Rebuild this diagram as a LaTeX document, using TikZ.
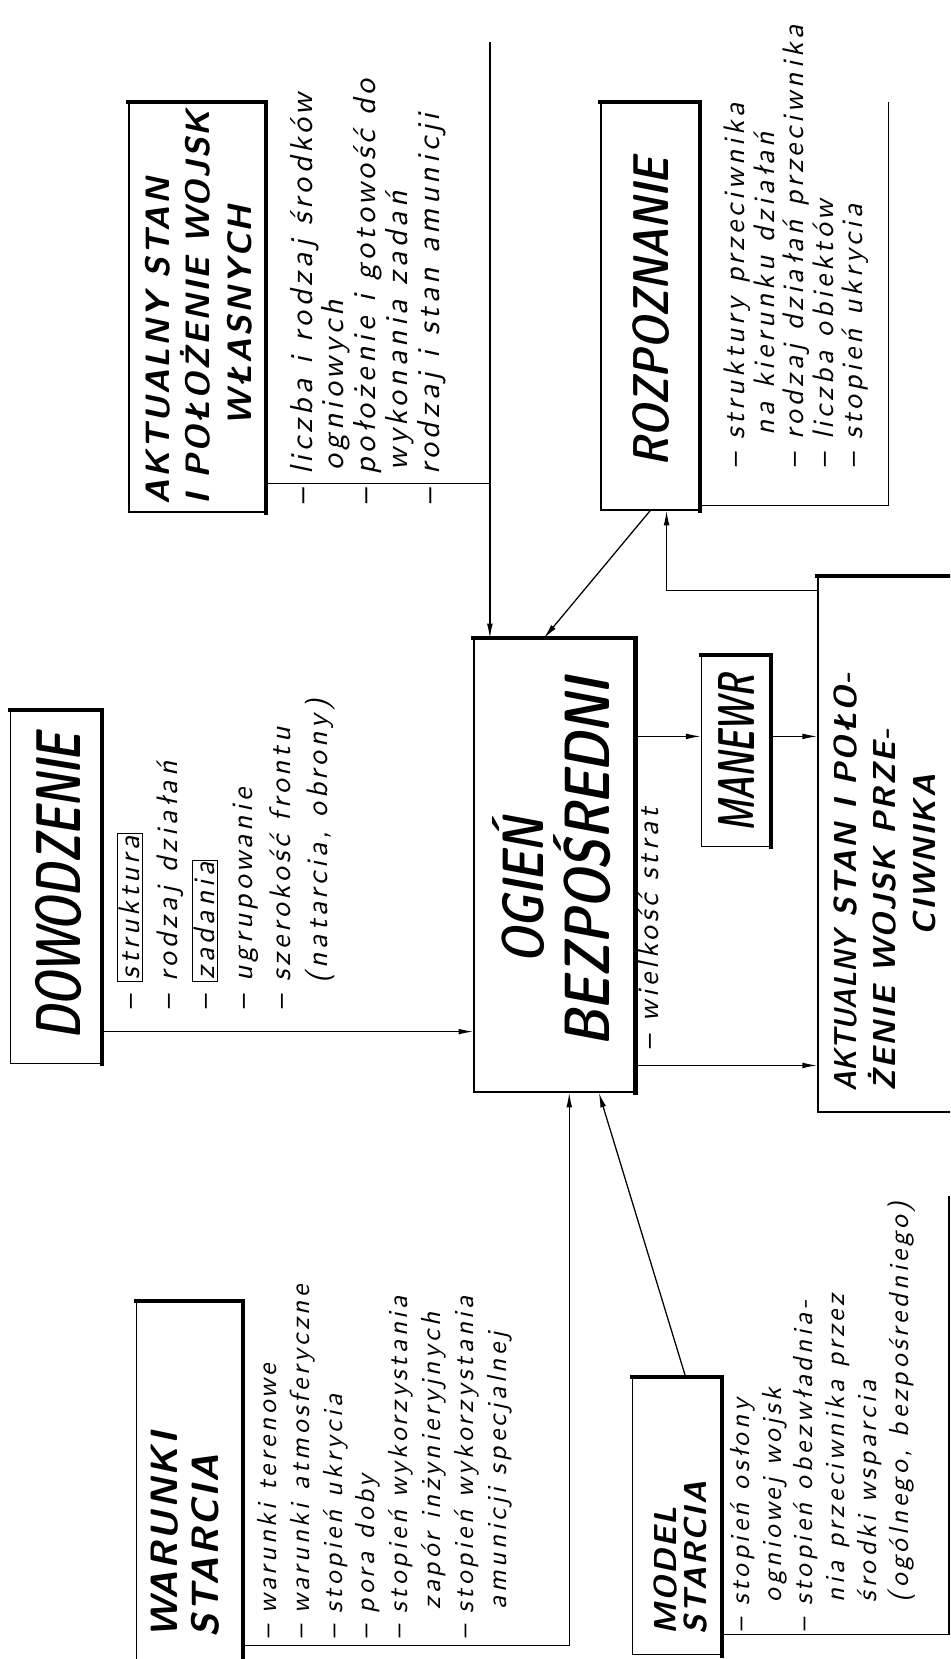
\documentclass[tikz,border=0pt]{standalone}
\usepackage{fontspec}
\usetikzlibrary{arrows.meta}
\newfontfamily\handfont{lmsans10-oblique.otf}[LetterSpace=13]
\newfontfamily\boldhand{lmsans10-boldoblique.otf}[LetterSpace=6]
\newfontfamily\caphand{lmsansdemicond10-oblique.otf}
\setlength{\fboxsep}{1.5pt}
\setlength{\fboxrule}{1pt}
\tikzset{
  block/.style={draw, line width=1.3pt, inner sep=0pt},
  shade edge/.style={line width=4pt, line cap=rect},
  conn/.style={line width=1.2pt},
  arr/.style={line width=1.2pt, -{Latex[length=14pt,width=5.5pt]}},
  listtext/.style={rotate=90, anchor=north west, align=left, inner sep=0pt,
    font=\handfont\fontsize{30}{30}\selectfont},
  title/.style={rotate=90, inner sep=0pt}
}
\begin{document}
\begin{tikzpicture}[x=1pt, y=-1pt]
\useasboundingbox (0,0) rectangle (898,1568);
\fill[white] (0,0) rectangle (898,1568);
\clip (0,0) rectangle (898,1568);

% ---- boxes (centre, size) ----
\node[block, minimum width=129pt, minimum height=387pt] (own)   at (186.5,290.5) {};
\node[block, minimum width=93pt,  minimum height=385pt] (roz)   at (614.5,289.5) {};
\node[block, minimum width=86pt,  minimum height=333pt] (dow)   at (53,838.5) {};
\node[block, minimum width=152pt, minimum height=428pt] (ogien) at (524,818) {};
\node[block, minimum width=65pt,  minimum height=180pt] (man)   at (695.5,710) {};
\node[block, minimum width=132pt, minimum height=506pt] (enemy) at (839,798) {};
\node[block, minimum width=100pt, minimum height=345pt] (war)   at (179,1402.5) {};
\node[block, minimum width=84pt,  minimum height=262pt] (model) at (640,1433) {};

% heavy top and right edges
\foreach \b in {own,roz,dow,ogien,man,enemy,war,model}
  \draw[shade edge] (\b.north west) -- (\b.north east) -- (\b.south east);

% ---- titles ----
\node[title, anchor=north west, align=left, font=\boldhand\fontsize{32}{38}\selectfont]
  (ownT) at (137,477) {AKTUALNY STAN\\I POŁOŻENIE WOJSK};
\node[title, font=\boldhand\fontsize{32}{38}\selectfont] (ownT3) at (227,298) {WŁASNYCH};
\node[title, font=\caphand\fontsize{44}{44}\selectfont] (rozT) at (615,295) {\scalebox{1}[1.08]{ROZPOZNANIE}};
\node[title, font=\caphand\fontsize{46}{50}\selectfont] (dowT) at (55,838) {\scalebox{1}[1.3]{DOWODZENIE}};
\node[title, font=\caphand\fontsize{48}{50}\selectfont] (ogT1) at (490,842) {\scalebox{1}[1.15]{OGIEŃ}};
\node[title, font=\caphand\fontsize{54}{56}\selectfont] (ogT2) at (550,815) {\scalebox{1}[1.12]{BEZPOŚREDNI}};
\node[title, font=\caphand\fontsize{35}{40}\selectfont] (manT) at (696,712) {\scalebox{1}[1.4]{MANEWR}};
\node[title, anchor=north west, align=left, font=\boldhand\fontsize{30}{37}\selectfont]
  (enT) at (788,1032) {{\caphand AKTUALNY} STAN I POŁO-\\ŻENIE WOJSK PRZE-};
\node[title, font=\boldhand\fontsize{30}{33}\selectfont] (enT3) at (874,808) {CIWNIKA};
\node[title, anchor=north west, align=left, font=\boldhand\fontsize{36}{38}\selectfont]
  (warT) at (143,1548) {WARUNKI\\STARCIA};
\node[title, anchor=north west, align=left, font=\boldhand\fontsize{30}{28}\selectfont]
  (modT) at (618,1545) {MODEL\\STARCIA};

% ---- lists ----
\node[listtext] (ownL) at (274,478) {– liczba i rodzaj środków\\
  \hspace*{1.1em}ogniowych\\
  – położenie i gotowość do\\
  \hspace*{1.1em}wykonania zadań\\
  – rodzaj i stan amunicji};
\node[listtext, font=\handfont\fontsize{28}{28}\selectfont] (rozL) at (684,443) {– struktury przeciwnika\\
  \hspace*{1.1em}na kierunku działań\\
  – rodzaj działań przeciwnika\\
  – liczba obiektów\\
  – stopień ukrycia};
\node[listtext, font=\handfont\fontsize{28}{35.5}\selectfont] (dowL) at (110,955) {– \fbox{struktura}\\
  – rodzaj działań\\
  – \fbox{zadania}\\
  – ugrupowanie\\
  – szerokość frontu\\
  \hspace*{0.9em}(natarcia, obrony)};
\node[listtext, font=\handfont\fontsize{26}{31}\selectfont] (warL) at (243,1550) {– warunki terenowe\\
  – warunki atmosferyczne\\
  – stopień ukrycia\\
  – pora doby\\
  – stopień wykorzystania\\
  \hspace*{1.1em}zapór inżynieryjnych\\
  – stopień wykorzystania\\
  \hspace*{1.1em}amunicji specjalnej};
\node[listtext, font=\handfont\fontsize{26}{30}\selectfont] (modL) at (690,1543) {– stopień osłony\\
  \hspace*{1.1em}ogniowej wojsk\\
  – stopień obezwładnia-\\
  \hspace*{1.1em}nia przeciwnika przez\\
  \hspace*{1.1em}środki wsparcia\\
  \hspace*{1.1em}(ogólnego, bezpośredniego)};
\node[listtext, font=\handfont\fontsize{28}{30}\selectfont] (strL) at (603,993) {– wielkość strat};

% ---- connectors ----
% own forces: bracket round the list, then into the fire box
\coordinate (ownJ) at (463,457);
\coordinate (ownTop) at (463,40);
\draw[conn] (own.east |- ownJ) -- (ownJ);
\draw[conn] (ownTop) -- (ownJ);
\draw[arr] (ownJ) -- (ogien.north -| ownJ);

% reconnaissance bracket and link to the fire box
\coordinate (rozJ) at (840,478);
\draw[conn] (roz.east |- rozJ) -- (rozJ) -- (rozJ |- roz.north);
\draw[arr] (roz.south) -- ([xshift=-10pt]ogien.north);

% enemy state feeds reconnaissance
\coordinate (enJ) at (630,558);
\draw[arr] (enemy.west |- enJ) -- (enJ) -- (roz.south -| enJ);

% command into the fire box
\coordinate (dowJ) at (96,975);
\draw[arr] (dowJ) -- (ogien.west |- dowJ);

% fire -> manoeuvre -> enemy state
\coordinate (manJ) at (600,696);
\draw[arr] (ogien.east |- manJ) -- (man.west |- manJ);
\draw[arr] (man.east |- manJ) -- (enemy.west |- manJ);
\coordinate (lowJ) at (600,1007);
\draw[arr] (ogien.east |- lowJ) -- (enemy.west |- lowJ);

% combat conditions bracket into the fire box
\coordinate (warJ) at (538,1555);
\draw[arr] (war.east |- warJ) -- (warJ) -- (ogien.south -| warJ);

% combat model
\draw[arr] ([xshift=8pt]model.north) -- ([xshift=42pt]ogien.south);
\coordinate (modJ) at (897,1545);
\draw[conn] (model.east |- modJ) -- (modJ) -- (897,1130);
\end{tikzpicture}
\end{document}
